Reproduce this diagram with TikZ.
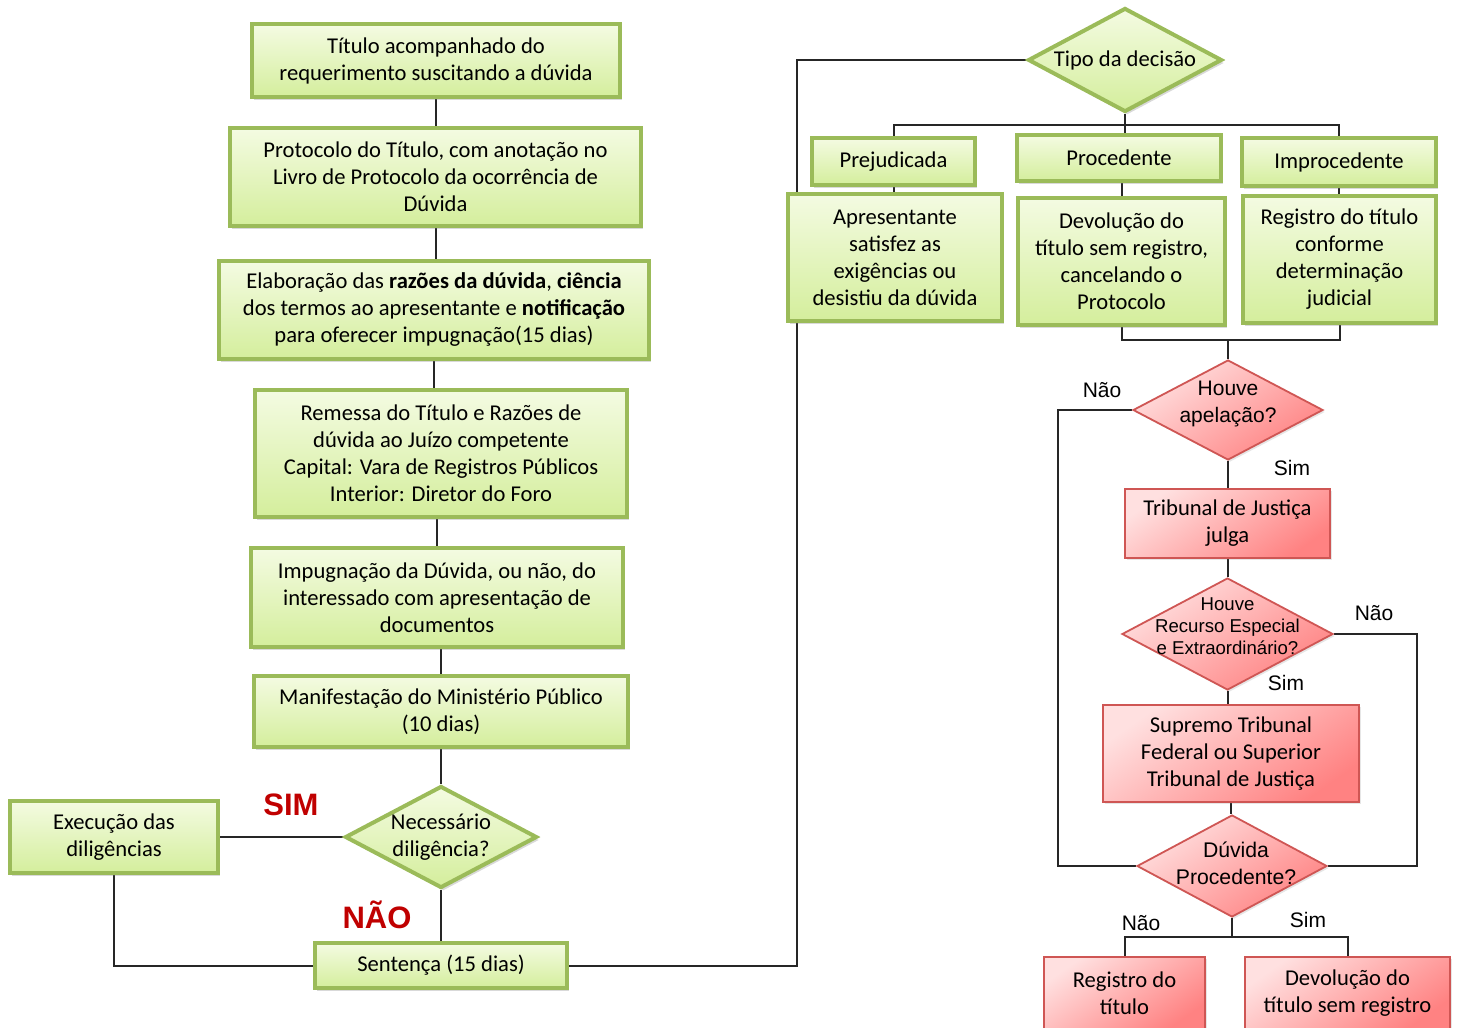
\documentclass[tikz,border=0pt]{standalone}
\usepackage{fontspec}
\setmainfont{Carlito}
\newfontfamily\arialfont{Liberation Sans}
\usetikzlibrary{shapes.geometric,shadows}

\definecolor{greenline}{HTML}{9BBB59}
\definecolor{greentop}{HTML}{F4FBE2}
\definecolor{greenbot}{HTML}{D4EE9C}
\definecolor{redline}{HTML}{CF5654}
\definecolor{redtop}{HTML}{FFE0E0}
\definecolor{redbot}{HTML}{FF8282}
\definecolor{simred}{HTML}{C00000}

\pgfdeclarelayer{background}
\pgfsetlayers{background,main}

\begin{document}
\begin{tikzpicture}[x=0.5pt, y=-0.5pt,
  every node/.style={font=\fontsize{11.3}{13.5}\selectfont, align=center, inner sep=0pt},
  gbox/.style={rectangle, draw=greenline, line width=2pt, top color=greentop, bottom color=greenbot,
    drop shadow={opacity=0.3, shadow xshift=1.2pt, shadow yshift=-1.5pt}},
  gdec/.style={gbox, diamond, aspect=1.9},
  rbox/.style={rectangle, draw=redline, line width=0.9pt, top color=redtop, bottom color=redbot, shading angle=35,
    drop shadow={opacity=0.2, shadow xshift=1pt, shadow yshift=-1pt}},
  rdec/.style={rbox, diamond, aspect=1.9},
  atext/.style={font=\arialfont\fontsize{10.5}{13.5}\selectfont},
  link/.style={line width=1pt, black!85},
  lbl/.style={font=\arialfont\fontsize{10.5}{13}\selectfont},
  bigred/.style={font=\arialfont\bfseries\fontsize{15.5}{18}\selectfont, text=simred}]

\useasboundingbox (0,0) rectangle (1459,1027);

% Left column
\node[gbox, minimum width=184pt, minimum height=36.5pt] (t1) at (436,61)
  {Título acompanhado do\\requerimento suscitando a dúvida};
\node[gbox, minimum width=205.5pt, minimum height=49pt] (t2) at (435.5,177)
  {Protocolo do Título, com anotação no\\Livro de Protocolo da ocorrência de\\Dúvida};
\node[gbox, minimum width=215pt, minimum height=49pt] (t3) at (434,310)
  {Elaboração das \textbf{razões da dúvida}, \textbf{ciência}\\dos termos ao apresentante e \textbf{notificação}\\para oferecer impugnação(15 dias)};
\node[gbox, minimum width=186pt, minimum height=63.5pt] (t4) at (441,453.5)
  {Remessa do Título e Razões de\\dúvida ao Juízo competente\\Capital: Vara de Registros Públicos\\Interior: Diretor do Foro};
\node[gbox, minimum width=186pt, minimum height=49.5pt] (t5) at (437,597.5)
  {Impugnação da Dúvida, ou não, do\\interessado com apresentação de\\documentos};
\node[gbox, minimum width=187pt, minimum height=35.5pt] (t6) at (441,711.5)
  {Manifestação do Ministério Público\\(10 dias)};
\node[gdec, minimum width=96pt, minimum height=51pt,
  label={center:Necessário\\diligência?}] (diligencia) at (441,837) {};
\node[gbox, minimum width=104pt, minimum height=36pt] (execucao) at (114,837)
  {Execução das\\diligências};
\node[gbox, minimum width=126pt, minimum height=22.5pt] (sentenca) at (441,965.5)
  {Sentença (15 dias)};
\node[bigred] (sim) at (291,805) {SIM};
\node[bigred] (nao) at (377,915) {NÃO};

% Decision type
\node[gdec, minimum width=97pt, minimum height=52pt,
  label={center:Tipo da decisão}] (tipo) at (1125,60) {};
\node[gbox, minimum width=81.5pt, minimum height=23.5pt] (prej) at (893.5,161.5) {Prejudicada};
\node[gbox, minimum width=102pt, minimum height=23pt] (proc) at (1119,158) {Procedente};
\node[gbox, minimum width=97pt, minimum height=24pt] (improc) at (1339,162) {Improcedente};
\node[gbox, minimum width=107pt, minimum height=63.5pt] (apres) at (895,257.5)
  {Apresentante\\satisfez as\\exigências ou\\desistiu da dúvida};
\node[gbox, minimum width=103.5pt, minimum height=63.5pt] (devol) at (1121.5,261.5)
  {Devolução do\\título sem registro,\\cancelando o\\Protocolo};
\node[gbox, minimum width=96.5pt, minimum height=63.5pt] (regjud) at (1339.5,259.5)
  {Registro do título\\conforme\\determinação\\judicial};

% Appeals
\node[rdec, minimum width=95pt, minimum height=50pt,
  label={[atext, yshift=3pt]center:Houve\\apelação?}] (apel) at (1228,410) {};
\node[rbox, minimum width=102.5pt, minimum height=34.5pt] (tj) at (1227.5,523.5)
  {Tribunal de Justiça\\julga};
\node[rdec, minimum width=105.5pt, minimum height=56pt,
  label={[font=\arialfont\fontsize{9.3}{11}\selectfont, yshift=4pt]center:Houve\\Recurso Especial\\e Extraordinário?}] (recurso) at (1227.5,634) {};
\node[rbox, minimum width=128pt, minimum height=48.5pt] (stf) at (1231,753.5)
  {Supremo Tribunal\\Federal ou Superior\\Tribunal de Justiça};
\node[rdec, minimum width=95pt, minimum height=51pt,
  label={[font=\arialfont\fontsize{10.6}{13.5}\selectfont, yshift=1.5pt, xshift=2pt]center:Dúvida\\Procedente?}] (duvida) at (1232,866) {};
\node[rbox, minimum width=80.5pt, minimum height=36pt] (regtit) at (1124.5,993)
  {Registro do\\título};
\node[rbox, minimum width=102.5pt, minimum height=36pt] (devtit) at (1347.5,993)
  {Devolução do\\título sem registro};

\node[lbl] (naoA) at (1102,390) {Não};
\node[lbl] (simA) at (1292,468) {Sim};
\node[lbl] (naoB) at (1374,613) {Não};
\node[lbl] (simB) at (1286,683) {Sim};
\node[lbl] (naoC) at (1141,923) {Não};
\node[lbl] (simC) at (1308,920) {Sim};

% Helper points for the routed lines
\coordinate (rail) at (797,500);
\coordinate (split) at (1125,125);
\coordinate (merge) at (1228,340);
\coordinate (loopL) at (1058,640);
\coordinate (loopR) at (1417,750);
\coordinate (fork) at (1232,937);

% Connectors
\begin{pgfonlayer}{background}
\draw[link] (t1.south) -- (t1.south |- t2.north);
\draw[link] (t2.south) -- (t2.south |- t3.north);
\draw[link] (t3.south) -- (t3.south |- t4.north);
\draw[link] (t5.north) -- (t5.north |- t4.south);
\draw[link] (t6.north) -- (t6.north |- t5.south);
\draw[link] (t6.south) -- (diligencia.north);
\draw[link] (diligencia.south) -- (sentenca.north);
\draw[link] (diligencia.west) -- (execucao.east);
\draw[link] (execucao.south) |- (sentenca.west);
\draw[link] (sentenca.east) -| (rail) |- (tipo.west);

\draw[link] (tipo.south) -- (split);
\draw[link] (prej.north) |- (split) -| (improc.north);
\draw[link] (split) -- (split |- proc.north);
\draw[link] (prej.south) -- (prej.south |- apres.north);
\draw[link] (devol.north) -- (devol.north |- proc.south);
\draw[link] (improc.south) -- (improc.south |- regjud.north);
\draw[link] (devol.south) |- (merge) -| (regjud.south);
\draw[link] (merge) -- (apel.north);

\draw[link] (apel.south) -- (apel.south |- tj.north);
\draw[link] (tj.south) -- (tj.south |- recurso.north);
\draw[link] (recurso.south) -- (recurso.south |- stf.north);
\draw[link] (stf.south) -- (stf.south |- duvida.north);
\draw[link] (apel.west) -| (loopL) |- (duvida.west);
\draw[link] (recurso.east) -| (loopR) |- (duvida.east);
\draw[link] (duvida.south) -- (fork);
\draw[link] (regtit.north) |- (fork) -| (devtit.north);
\end{pgfonlayer}

\end{tikzpicture}
\end{document}
